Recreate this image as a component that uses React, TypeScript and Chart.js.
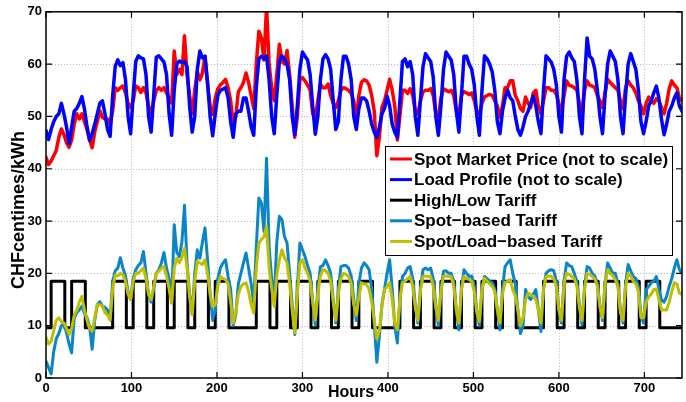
import { useEffect, useRef } from "react";
import { Chart, registerables } from "chart.js";

Chart.register(...registerables);

// Time index: one sample every 3 hours over the month (0 .. 744 h)
const SAMPLE_STEP = 3;
const HOURS: number[] = Array.from({ length: 249 }, (_, i) => i * SAMPLE_STEP);

const X_TICKS = [0, 100, 200, 300, 400, 500, 600, 700];
const Y_TICKS = [0, 10, 20, 30, 40, 50, 60, 70];
const X_MAX = 744;
const Y_MAX = 70;

const SERIES_LABELS = [
  "Spot Market Price (not to scale)",
  "Load Profile (not to scale)",
  "High/Low Tariff",
  "Spot\u2212based Tariff",
  "Spot/Load\u2212based Tariff",
];

// Spot market price (red), one row per day, 3-hourly
const SPOT_PRICE = [
  42.2, 40.8, 41.5, 42.5, 43.5, 46, 47.6, 46.5,
  45, 44.1, 45.5, 48.5, 50.5, 49.5, 50.5, 49,
  47.5, 45.5, 44, 47, 49, 51.1, 49.8, 49.5,
  49.5, 48.5, 51, 55.5, 55, 55.5, 55.8, 54.5,
  52.5, 51.7, 53, 55.8, 55.5, 54.6, 55.5, 54.5,
  52, 50.5, 53, 55, 55.5, 55, 55.5, 54.5,
  53.5, 52.5, 62.5, 58, 59, 58, 65.4, 58,
  54, 50.5, 55, 58.6, 57, 58.3, 61.5, 56,
  52, 50.4, 53.5, 55.3, 56, 56.5, 57.1, 55.5,
  53, 48.5, 50, 54.7, 55.5, 56.5, 58.3, 56.5,
  54, 51.5, 60, 66.3, 65, 60.8, 71, 60,
  55.5, 53, 58, 63.8, 60.5, 60, 62.6, 58,
  52, 46, 50, 57, 57.4, 56.8, 56, 55,
  50.5, 49.8, 53, 56.2, 55.5, 55.5, 56.2, 54,
  52.5, 51.7, 53, 55, 55.5, 55.3, 55, 54.4,
  53, 49.5, 54, 56.5, 57, 56.8, 56, 54,
  51, 42.5, 46, 51.7, 53, 55, 57.1, 55,
  52, 45.5, 50, 55, 55, 54.4, 55.3, 54,
  51, 50.5, 53, 54.7, 55, 55, 55.3, 54,
  50.5, 50, 53.5, 55.3, 55, 54.7, 55, 54,
  51, 50.2, 54, 54.7, 54.5, 54.2, 54.5, 53,
  51, 50.5, 52.5, 53.7, 54, 54.2, 54, 53,
  52, 49.8, 52, 55.5, 55.5, 56.8, 56.8, 54,
  53, 51.5, 51, 53.7, 52.5, 51.7, 54.5, 55,
  52, 50.5, 53, 55.5, 55.5, 55, 55, 54.2,
  52.5, 51, 54, 56.8, 56, 55.8, 55.5, 55,
  52.5, 51, 55, 56.8, 56, 55.8, 55.5, 54,
  53, 51.7, 54.5, 57.1, 56.5, 56, 55.5, 55,
  53, 51.5, 55.5, 56.8, 56, 55.5, 54.5, 53,
  52, 50.5, 52.5, 53.7, 53, 52.5, 53.4, 53,
  51.7, 50.5, 52.5, 55.3, 56.8, 56, 55.5, 53.5,
  53,
];

// Load profile (blue)
const LOAD_PROFILE = [
  47.3, 45.6, 47.5, 49, 50, 50.5, 52.5, 50.5,
  48, 44.8, 48, 51, 51.5, 52.5, 53.8, 51.4,
  48, 45.4, 46.7, 48.5, 50.5, 52.5, 53, 50.5,
  47.5, 46.2, 54, 59.6, 60.8, 59.7, 60.3, 57,
  50, 46.7, 54, 60.5, 61.6, 61.2, 61, 58,
  50, 47, 54, 61.3, 61.6, 61, 60.4, 58,
  50.5, 46.4, 55, 60, 60.6, 60.3, 60.5, 59.5,
  52, 47, 50, 59, 62.5, 61.2, 61.5, 56.5,
  50, 46.3, 50.5, 54, 55, 55.2, 55.5, 53.6,
  49, 46, 50.5, 51, 51, 53.5, 53.5, 51,
  48, 46.4, 55.5, 61, 61.5, 61, 61.6, 57,
  50, 46.7, 54, 60.5, 61.6, 61, 60, 57,
  50, 46.5, 52, 59, 62.3, 61.5, 60.8, 58,
  52, 46.6, 50, 57, 61, 61.8, 61, 59,
  53, 47.5, 49, 57, 61.5, 61.5, 60, 57,
  50, 47.5, 51.5, 53.5, 53.5, 53, 51, 48.5,
  47, 46, 48, 50.5, 51.5, 53.9, 52, 48.5,
  47, 46, 53, 60.5, 61, 59.5, 60.5, 58,
  50, 46.4, 53, 59.5, 62, 61.2, 60.5, 57.5,
  50, 46.4, 52, 59, 62.3, 61.5, 60.8, 58,
  51, 47, 54, 61.5, 61.5, 60, 59, 56,
  50, 46.4, 55, 61.6, 61, 60, 58.5, 55,
  49, 46.7, 51, 53.5, 55, 53.6, 53, 50,
  47.5, 46.4, 48, 50, 51, 52.5, 53.9, 52,
  49, 46.7, 55, 61.6, 61, 60.4, 59, 56,
  50, 47, 57, 61.5, 62.3, 61.2, 60.5, 57,
  50, 46.7, 57, 65, 61.5, 61, 59, 55,
  50, 46.7, 54, 60, 62.5, 61.5, 60.5, 57,
  50, 46.7, 54, 60, 62, 60.5, 59, 55,
  49, 46.7, 49, 52, 53, 54.5, 55.8, 53.5,
  49.5, 46.5, 48.5, 51, 52, 53.5, 54.5, 52,
  51,
];

// Spot-based tariff (light blue)
const SPOT_TARIFF = [
  3.2, 2, 0.8, 5, 7.5, 8.5, 10, 10.5,
  8.6, 6.5, 4.8, 11.5, 12.5, 13, 13.7, 12.4,
  11.5, 9.9, 5.5, 11, 14, 14.6, 13.7, 13.5,
  13, 11.1, 18.5, 20.5, 21, 23, 21, 19.5,
  16.5, 15, 19, 20.7, 21.5, 22, 24.2, 20,
  16, 14.5, 17, 20, 20.7, 22, 24, 21,
  19, 14.6, 29.3, 24, 23.2, 26, 33, 22,
  16, 12.4, 20, 24.5, 22.9, 26, 28.7, 22.6,
  16, 11, 13, 19, 21, 22, 22.6, 19.4,
  17, 10, 12, 18, 20, 22, 23.9, 21,
  18, 14.3, 25, 34.4, 33.4, 28, 42, 25,
  19, 15, 26, 30.9, 30.3, 27, 25.8, 20,
  14, 8.3, 17, 25.8, 24.5, 23.2, 21.5, 20,
  14.5, 10.2, 17, 21.3, 21.5, 22.6, 21.5, 20,
  15, 10.5, 17, 21.3, 21.5, 21.5, 21, 19.5,
  15, 11, 18, 21, 22, 21.5, 20.7, 17,
  10.5, 3, 8, 14, 17, 20, 22.6, 17,
  10, 6.7, 15, 19.4, 20, 21, 21.3, 19,
  14, 10.5, 17, 20.7, 21, 20.7, 21, 19,
  14, 10, 17, 20.4, 20.5, 20, 20, 18.5,
  13, 9.2, 17, 20.7, 20, 19.4, 19.5, 17.5,
  13, 10, 17, 19.4, 19, 18.5, 18.2, 17,
  13, 9.2, 17, 21.3, 22, 22.6, 20, 18,
  13, 8.5, 10, 16.9, 15.5, 15, 16, 16.9,
  13, 8.9, 17, 20, 20.5, 20.7, 20.5, 18.5,
  13, 10.5, 18.5, 22, 21.5, 21.3, 20, 18.5,
  14, 10.2, 17.5, 21.3, 21, 20, 19.5, 18,
  14, 11, 18, 22, 21, 20, 20, 18,
  13, 10.5, 18, 21.7, 20.5, 19.4, 19, 17.5,
  12, 10.5, 16.9, 17.5, 18.2, 18.5, 19.4, 17,
  15, 14.5, 15.6, 17.5, 19, 21, 22.6, 20.7,
  20,
];

// Spot/load-based tariff (olive yellow)
const SPOT_LOAD_TARIFF = [
  7.8, 6.5, 7, 9, 11, 11.5, 10.8, 10.5,
  9.5, 8.3, 9.5, 12, 13, 14.5, 15.6, 13,
  11, 9.5, 9, 11.5, 14, 14, 13.7, 12.5,
  12, 11.1, 17, 19.7, 19.5, 20, 19.7, 18.5,
  16, 15, 18.5, 20, 20, 20.5, 21, 19,
  16, 15, 17.5, 20, 20.4, 21, 21.3, 19.5,
  17, 14.3, 21, 22.9, 22, 23, 24.8, 21,
  15.5, 12.1, 18.5, 22.3, 22, 21.7, 22.6, 20,
  16, 13.7, 14, 17.5, 19.4, 19, 18.8, 18,
  14.5, 10.5, 12.5, 16, 17.5, 18, 18.2, 16.5,
  14, 12.4, 21, 25.8, 26.5, 27, 29, 21,
  17, 13.7, 19.5, 22.6, 24.5, 23, 22, 18,
  13, 8.6, 16, 22, 22.6, 21, 20, 18.5,
  14.5, 11.1, 16, 19.5, 20.7, 20.5, 20, 18.5,
  14.5, 11, 16, 19, 20, 19.8, 19.4, 18,
  14, 12, 15.5, 18.2, 18, 17.8, 17, 14.5,
  11.1, 7.5, 9, 14, 16.9, 17.5, 18.2, 15,
  10.5, 9.2, 15, 18.2, 18.5, 19, 19.4, 17.5,
  13.5, 11, 16.5, 19.4, 19.5, 19.4, 19.4, 17.5,
  13.5, 11, 16.5, 19.4, 19.5, 19.4, 19.4, 17.5,
  13, 10.5, 17, 19.4, 19, 18.8, 18.5, 16.5,
  12.5, 10.8, 17, 19.1, 18.5, 18, 17.5, 16.5,
  13, 10.5, 16, 18.2, 18.5, 18.8, 16.9, 15.8,
  13, 10, 11.5, 15, 16.2, 16, 15.6, 15,
  13, 10.5, 17, 19.4, 19.5, 19.4, 19, 17.5,
  13, 11, 18, 20, 19.8, 19.4, 19, 17.5,
  13.5, 11, 17, 20, 19.8, 19.4, 19, 17.5,
  13.5, 11.5, 18, 20.7, 20, 19.5, 18.8, 17.5,
  12.5, 11, 17.5, 20, 19.5, 18.5, 18, 16.5,
  11.5, 11.5, 14.5, 15.5, 16, 16.9, 17, 15,
  13, 13, 13, 14.5, 16.5, 18.2, 18, 16.2,
  16,
];

// High/low tariff: hour at which each level starts
const TARIFF_CHANGE_HOURS = [
  0, 6, 22, 30, 46, 78, 94, 102, 118, 126, 142, 150, 166, 174, 190, 198, 214,
  246, 262, 270, 286, 294, 310, 318, 334, 342, 358, 366, 382,
  414, 430, 438, 454, 462, 478, 486, 502, 510, 526, 534, 550,
  582, 598, 606, 622, 630, 646, 654, 670, 678, 694, 702, 718, 744,
];
const TARIFF_LEVELS = [
  9.6, 18.5, 9.6, 18.5, 9.6, 18.5, 9.6, 18.5, 9.6, 18.5, 9.6, 18.5, 9.6, 18.5, 9.6, 18.5, 9.6,
  18.5, 9.6, 18.5, 9.6, 18.5, 9.6, 18.5, 9.6, 18.5, 9.6, 18.5, 9.6,
  18.5, 9.6, 18.5, 9.6, 18.5, 9.6, 18.5, 9.6, 18.5, 9.6, 18.5, 9.6,
  18.5, 9.6, 18.5, 9.6, 18.5, 9.6, 18.5, 9.6, 18.5, 9.6, 18.5, 9.6, 9.6,
];

const COLORS = ["#ff0000", "#0000ff", "#000000", "#0a86c8", "#bfbf00"];
const FONT = '"Liberation Sans", Arial, Helvetica, sans-serif';

const pairs = (xs: number[], ys: number[]) => xs.map((x, i) => ({ x, y: ys[i] }));

const matlabPlugin = {
  id: "matlabLook",
  beforeDatasetsDraw(chart: any) {
    const { ctx, chartArea: a, scales } = chart;
    const x = scales.x;
    const y = scales.y;
    ctx.save();
    ctx.strokeStyle = "#b8b8b8";
    ctx.lineWidth = 1;
    ctx.setLineDash([1, 2]);
    for (const t of X_TICKS) {
      if (t === 0) continue;
      const px = Math.round(x.getPixelForValue(t)) + 0.5;
      ctx.beginPath();
      ctx.moveTo(px, a.top);
      ctx.lineTo(px, a.bottom);
      ctx.stroke();
    }
    for (const t of Y_TICKS) {
      if (t === 0 || t === Y_MAX) continue;
      const py = Math.round(y.getPixelForValue(t)) + 0.5;
      ctx.beginPath();
      ctx.moveTo(a.left, py);
      ctx.lineTo(a.right, py);
      ctx.stroke();
    }
    ctx.restore();
  },
  afterDatasetsDraw(chart: any) {
    const { ctx, chartArea: a, scales } = chart;
    const x = scales.x;
    const y = scales.y;
    ctx.save();
    ctx.strokeStyle = "#000";
    ctx.lineWidth = 1.5;
    ctx.setLineDash([]);
    ctx.strokeRect(a.left, a.top, a.right - a.left, a.bottom - a.top);
    ctx.lineWidth = 1.2;
    const tl = 6;
    for (const t of X_TICKS) {
      const px = x.getPixelForValue(t);
      ctx.beginPath();
      ctx.moveTo(px, a.bottom);
      ctx.lineTo(px, a.bottom - tl);
      ctx.moveTo(px, a.top);
      ctx.lineTo(px, a.top + tl);
      ctx.stroke();
    }
    for (const t of Y_TICKS) {
      const py = y.getPixelForValue(t);
      ctx.beginPath();
      ctx.moveTo(a.left, py);
      ctx.lineTo(a.left + tl, py);
      ctx.moveTo(a.right, py);
      ctx.lineTo(a.right - tl, py);
      ctx.stroke();
    }
    ctx.restore();
  },
  afterDraw(chart: any) {
    const { ctx } = chart;
    ctx.save();
    // Legend box
    const bx = 385;
    const by = 146;
    const bw = 287;
    const bh = 109;
    ctx.fillStyle = "#fff";
    ctx.fillRect(bx, by, bw, bh);
    ctx.strokeStyle = "#000";
    ctx.lineWidth = 1;
    ctx.strokeRect(bx + 0.5, by + 0.5, bw, bh);
    ctx.font = `bold 17px ${FONT}`;
    ctx.textBaseline = "middle";
    ctx.textAlign = "left";
    SERIES_LABELS.forEach((label, i) => {
      const ry = by + 13 + i * 20.6;
      ctx.strokeStyle = COLORS[i];
      ctx.lineWidth = 3;
      ctx.beginPath();
      ctx.moveTo(bx + 5, ry);
      ctx.lineTo(bx + 27, ry);
      ctx.stroke();
      ctx.fillStyle = "#000";
      ctx.fillText(label, bx + 29, ry + 1);
    });
    // Axis titles
    ctx.fillStyle = "#000";
    ctx.font = `bold 16px ${FONT}`;
    ctx.textAlign = "center";
    ctx.textBaseline = "middle";
    ctx.fillText("Hours", 351, 393);
    ctx.translate(19, 210);
    ctx.rotate(-Math.PI / 2);
    ctx.font = `bold 18px ${FONT}`;
    ctx.fillText("CHFcentimes/kWh", 0, 0);
    ctx.restore();
  },
};

export default function App() {
  const canvasRef = useRef<HTMLCanvasElement | null>(null);

  useEffect(() => {
    const canvas = canvasRef.current;
    if (!canvas) return;
    const tickFont = { family: FONT, size: 13, weight: "bold" as const };
    const chart = new Chart(canvas, {
      type: "line",
      data: {
        datasets: [
          {
            label: SERIES_LABELS[0],
            data: pairs(HOURS, SPOT_PRICE),
            borderColor: COLORS[0],
            borderWidth: 3.5,
            order: 5,
          },
          {
            label: SERIES_LABELS[1],
            data: pairs(HOURS, LOAD_PROFILE),
            borderColor: COLORS[1],
            borderWidth: 3.5,
            order: 4,
          },
          {
            label: SERIES_LABELS[2],
            data: pairs(TARIFF_CHANGE_HOURS, TARIFF_LEVELS),
            borderColor: COLORS[2],
            borderWidth: 3,
            stepped: "before",
            order: 3,
          },
          {
            label: SERIES_LABELS[3],
            data: pairs(HOURS, SPOT_TARIFF),
            borderColor: COLORS[3],
            borderWidth: 3,
            order: 2,
          },
          {
            label: SERIES_LABELS[4],
            data: pairs(HOURS, SPOT_LOAD_TARIFF),
            borderColor: COLORS[4],
            borderWidth: 3,
            order: 1,
          },
        ] as any,
      },
      options: {
        responsive: false,
        animation: false,
        devicePixelRatio: 1,
        events: [],
        layout: { padding: { left: 0, top: 11, right: 4, bottom: 0 } },
        elements: {
          point: { radius: 0 },
          line: { tension: 0, borderJoinStyle: "round", borderCapStyle: "round", fill: false },
        },
        datasets: { line: { clip: 0 } as any },
        plugins: {
          legend: { display: false },
          tooltip: { enabled: false },
        },
        scales: {
          x: {
            type: "linear",
            min: 0,
            max: X_MAX,
            afterBuildTicks: (s: any) => {
              s.ticks = X_TICKS.map((v) => ({ value: v }));
            },
            afterFit: (s: any) => {
              s.height = 24;
            },
            grid: { display: false, drawTicks: false },
            border: { display: false },
            ticks: { font: tickFont, color: "#000", padding: 3, maxRotation: 0, autoSkip: false },
          },
          y: {
            type: "linear",
            min: 0,
            max: Y_MAX,
            afterBuildTicks: (s: any) => {
              s.ticks = Y_TICKS.map((v) => ({ value: v }));
            },
            afterFit: (s: any) => {
              s.width = 46;
            },
            grid: { display: false, drawTicks: false },
            border: { display: false },
            ticks: { font: tickFont, color: "#000", padding: 4, autoSkip: false },
          },
        },
      },
      plugins: [matlabPlugin],
    });
    return () => chart.destroy();
  }, []);

  return (
    <div
      style={{
        position: "fixed",
        left: 0,
        top: 0,
        width: 686,
        height: 402,
        background: "#fff",
      }}
    >
      <canvas ref={canvasRef} width={686} height={402} style={{ display: "block" }} />
    </div>
  );
}
